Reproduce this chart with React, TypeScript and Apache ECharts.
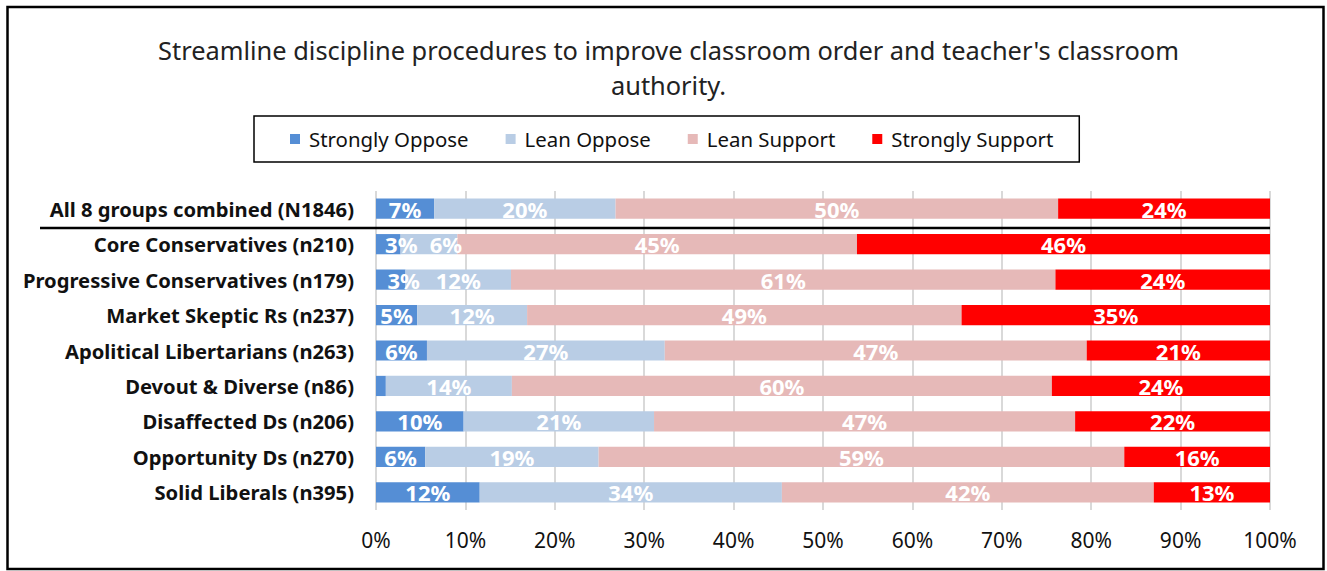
import React, { useEffect, useRef } from "react";
import * as echarts from "echarts";

const categories = [
  "All 8 groups combined (N1846)",
  "Core Conservatives (n210)",
  "Progressive Conservatives (n179)",
  "Market Skeptic Rs (n237)",
  "Apolitical Libertarians (n263)",
  "Devout & Diverse (n86)",
  "Disaffected Ds (n206)",
  "Opportunity Ds (n270)",
  "Solid Liberals (n395)",
];

const stronglyOppose = [6.5, 2.75, 3.3, 4.6, 5.7, 1.1, 9.8, 5.5, 11.6];
const leanOppose = [20.3, 6.35, 11.8, 12.3, 26.6, 14.1, 21.3, 19.4, 33.8];
const leanSupport = [49.5, 44.7, 60.9, 48.6, 47.2, 60.4, 47.1, 58.8, 41.6];
const stronglySupport = [23.7, 46.2, 24.0, 34.5, 20.5, 24.4, 21.8, 16.3, 13.0];

const seriesNames = ["Strongly Oppose", "Lean Oppose", "Lean Support", "Strongly Support"];
const seriesColors = ["#558ED5", "#B9CDE5", "#E6B9B8", "#FF0000"];
const xTicks = [0, 100, 10];

const titleText =
  "Streamline discipline procedures to improve classroom order and teacher's classroom\nauthority.";

const FONT = "'Noto Sans', 'Open Sans', sans-serif";

export default function App() {
  const ref = useRef<HTMLDivElement>(null);

  useEffect(() => {
    if (!ref.current) return;
    const chart = echarts.init(ref.current, undefined, { renderer: "svg" });
    const values = [stronglyOppose, leanOppose, leanSupport, stronglySupport];

    const labelBase = {
      show: true,
      position: "inside",
      color: "#fff",
      fontFamily: FONT,
      fontWeight: "bold",
      fontSize: 22,
      padding: [4, 0, 0, 0],
      formatter: (p: any) => (p.value < 2 ? "" : Math.round(p.value) + "%"),
    };

    const buildData = (arr: number[], si: number) =>
      arr.map((v) => {
        // small segments: the label is nudged right so it stays readable
        if (si === 0 && v < 4) return { value: v, label: { offset: [13, 0] } };
        if (si === 1 && v < 8) return { value: v, label: { offset: [17, 0] } };
        return v;
      });

    const option: any = {
      animation: false,
      backgroundColor: "#fff",
      textStyle: { fontFamily: FONT },
      title: {
        text: titleText,
        left: "50%",
        top: 27,
        textAlign: "center",
        textStyle: {
          fontFamily: FONT,
          fontSize: 25.4,
          fontWeight: "normal",
          color: "#222",
          lineHeight: 35,
          align: "center",
        },
      },
      legend: {
        data: seriesNames,
        left: 254,
        top: 116,
        orient: "horizontal",
        borderColor: "#000",
        borderWidth: 1.5,
        padding: [11, 26, 11, 36],
        itemGap: 37,
        itemWidth: 10,
        itemHeight: 10,
        icon: "rect",
        textStyle: {
          fontFamily: FONT,
          fontSize: 20.4,
          lineHeight: 24,
          color: "#111",
          padding: [0, 0, 0, 4],
        },
      },
      grid: { left: 376, right: 57, top: 191, bottom: 61 },
      xAxis: {
        type: "value",
        min: xTicks[0],
        max: xTicks[1],
        interval: xTicks[2],
        axisLine: { show: false },
        axisTick: { show: false },
        splitLine: { show: true, lineStyle: { color: "#D9D9D9", width: 2 } },
        axisLabel: {
          formatter: "{value}%",
          fontFamily: FONT,
          fontSize: 21,
          color: "#111",
          margin: 19,
        },
      },
      yAxis: {
        type: "category",
        data: categories,
        inverse: true,
        axisLine: { show: false },
        axisTick: { show: false },
        axisLabel: {
          fontFamily: FONT,
          fontSize: 20.2,
          fontWeight: "bold",
          color: "#111",
          margin: 22,
        },
      },
      series: seriesNames.map((name, i) => ({
        name,
        type: "bar",
        stack: "total",
        barWidth: "57%",
        itemStyle: { color: seriesColors[i] },
        label: labelBase,
        data: buildData(values[i], i),
      })),
    };

    chart.setOption(option);

    const y0 = chart.convertToPixel({ yAxisIndex: 0 }, categories[0]) as number;
    const y1 = chart.convertToPixel({ yAxisIndex: 0 }, categories[1]) as number;
    const xEnd = chart.convertToPixel({ xAxisIndex: 0 }, 100) as number;
    const sepY = (y0 + y1) / 2 + 1.5;

    chart.setOption({
      graphic: [
        {
          type: "line",
          shape: { x1: 40, y1: sepY, x2: xEnd, y2: sepY },
          style: { stroke: "#000", lineWidth: 2.5 },
          z: 100,
        },
        {
          type: "rect",
          shape: { x: 7.5, y: 7, width: 1316, height: 562 },
          style: { fill: "none", stroke: "#000", lineWidth: 2.5 },
          z: 100,
        },
      ],
    });

    return () => chart.dispose();
  }, []);

  return (
    <div
      ref={ref}
      style={{ position: "absolute", left: 0, top: 0, width: 1327, height: 571 }}
    />
  );
}
